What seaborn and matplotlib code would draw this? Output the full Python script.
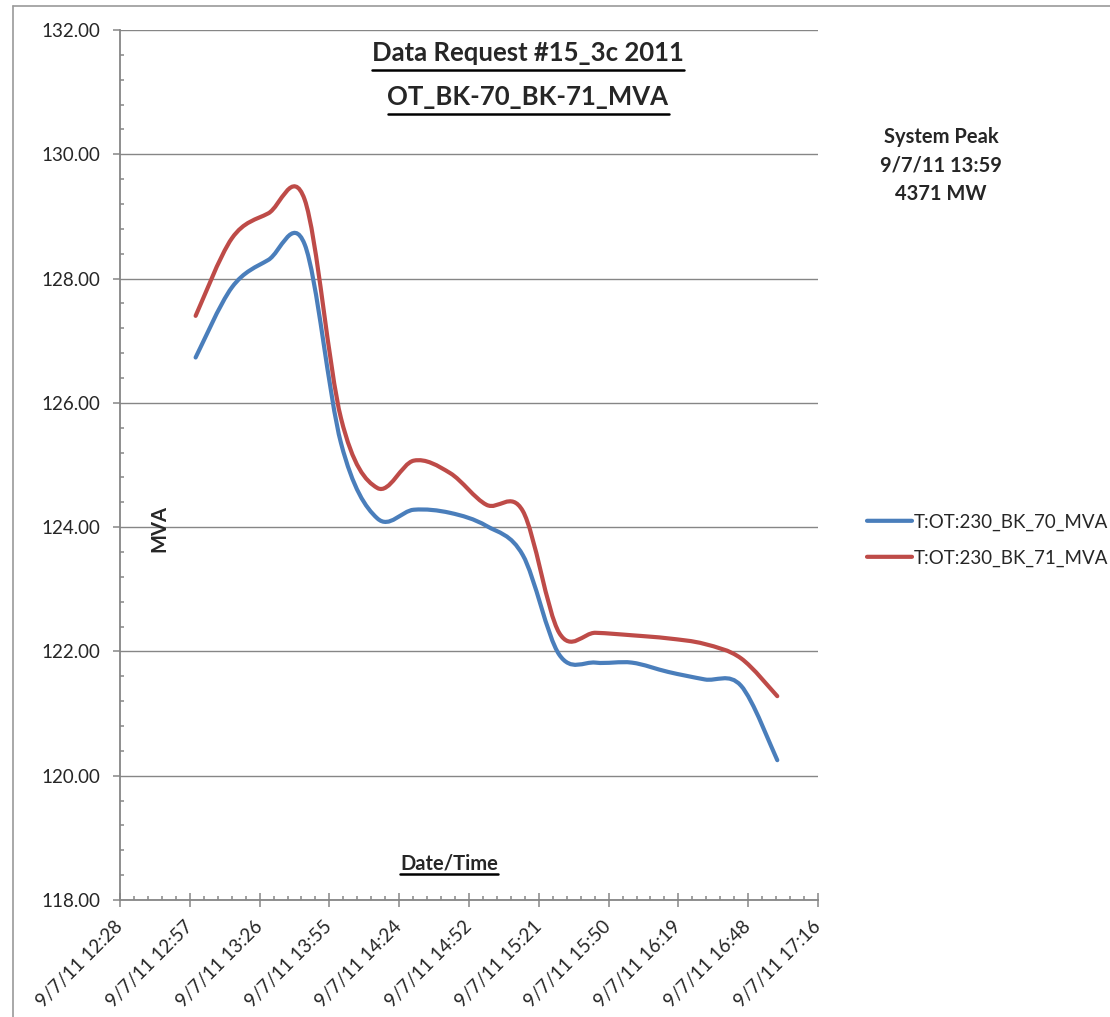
import matplotlib
matplotlib.use("Agg")
import matplotlib.pyplot as plt
import matplotlib.dates as mdates
import matplotlib.ticker as mticker
from matplotlib.lines import Line2D
from matplotlib.path import Path
from matplotlib.transforms import Affine2D
from matplotlib.patheffects import AbstractPathEffect
import seaborn as sns
import pandas as pd
import numpy as np

# readings, 15 minute interval on 9/7/11
times = ["13:00", "13:15", "13:30", "13:45", "14:00", "14:15", "14:30", "14:45", "15:00",
         "15:15", "15:30", "15:45", "16:00", "16:15", "16:30", "16:45", "17:00"]
bk70 = [126.73, 127.86, 128.30, 128.55, 125.35, 124.14, 124.28, 124.23, 124.02,
        123.55, 121.95, 121.82, 121.82, 121.67, 121.55, 121.45, 120.25]
bk71 = [127.40, 128.65, 129.05, 129.27, 125.75, 124.63, 125.07, 124.87, 124.36,
        124.26, 122.30, 122.30, 122.26, 122.21, 122.12, 121.89, 121.28]
series_names = ["T:OT:230_BK_70_MVA", "T:OT:230_BK_71_MVA"]
colors = ["#4A7EBB", "#BE4B48"]
y_ticks = [118, 120, 122, 124, 126, 128, 130, 132]
peak_lines = ["System Peak", "9/7/11 13:59", "4371 MW"]

stamp = pd.to_datetime(["2011-09-07 " + t for t in times])
df = pd.concat([
    pd.DataFrame({"time": stamp, "MVA": bk70, "series": series_names[0]}),
    pd.DataFrame({"time": stamp, "MVA": bk71, "series": series_names[1]}),
])


class SmoothLine(AbstractPathEffect):
    """draw a polyline as a Catmull-Rom style bezier (like excel smoothed lines)"""
    def draw_path(self, renderer, gc, tpath, affine, rgbFace=None):
        pts = affine.transform(tpath.vertices)
        if len(pts) < 3:
            renderer.draw_path(gc, tpath, affine, rgbFace)
            return
        ext = np.vstack([pts[0], pts, pts[-1]])
        verts = [pts[0]]
        codes = [Path.MOVETO]
        for i in range(len(pts) - 1):
            p0, p1, p2, p3 = ext[i], ext[i + 1], ext[i + 2], ext[i + 3]
            verts += [p1 + (p2 - p0) / 6, p2 - (p3 - p1) / 6, p2]
            codes += [Path.CURVE4] * 3
        renderer.draw_path(gc, Path(np.array(verts), codes), Affine2D(), rgbFace)


sns.set_style("white")
plt.rcParams["font.family"] = ["Lato", "DejaVu Sans"]

W, H = 1110, 1017
fig = plt.figure(figsize=(W / 100, H / 100), dpi=100)
ax = fig.add_axes([120 / W, 1 - 900 / H, 698 / W, 870 / H])

sns.lineplot(data=df, x="time", y="MVA", hue="series", palette=colors,
             linewidth=3, ax=ax, legend=False)
for ln in ax.lines:
    ln.set_path_effects([SmoothLine()])
    ln.set_solid_capstyle("round")

grey = "#868686"
x0 = mdates.date2num(pd.Timestamp("2011-09-07 12:28:48"))
ax.set_xlim(x0, x0 + 0.2)
ax.set_ylim(118, 132)
ax.set_xticks(x0 + np.arange(11) * 0.02)
ax.xaxis.set_minor_locator(mticker.MultipleLocator(0.004))
ax.set_yticks(y_ticks)
ax.yaxis.set_minor_locator(mticker.MultipleLocator(0.4))


def fmt_time(v, pos):
    d = pd.Timestamp(mdates.num2date(v)).round("s")
    return f"{d.month}/{d.day}/{d:%y %H:%M}"


ax.xaxis.set_major_formatter(mticker.FuncFormatter(fmt_time))
ax.yaxis.set_major_formatter(mticker.FormatStrFormatter("%.2f"))
ax.set_xlabel("")
ax.set_ylabel("")

ax.grid(axis="y", which="major", color=grey, lw=1)
ax.grid(axis="x", visible=False)
for s in ["top", "right"]:
    ax.spines[s].set_visible(False)
for s in ["left", "bottom"]:
    ax.spines[s].set_color(grey)
    ax.spines[s].set_linewidth(1.3)

ax.tick_params(axis="y", which="major", direction="out", length=5, width=1.1, color=grey,
               labelsize=13.5, pad=9, left=True)
ax.tick_params(axis="y", which="minor", direction="in", length=3, width=1.1, color=grey, left=True)
ax.tick_params(axis="x", which="major", direction="inout", length=10, width=1.1, color=grey,
               labelsize=13.5, pad=12, bottom=True)
ax.tick_params(axis="x", which="minor", direction="in", length=3, width=1.1, color=grey, bottom=True)
for lab in ax.get_xticklabels():
    lab.set_rotation(45)
    lab.set_ha("right")
    lab.set_va("center")
    lab.set_rotation_mode("anchor")

leg = ax.legend(handles=ax.lines[:2], labels=series_names, loc="center left",
                bbox_to_anchor=(867 / W, 1 - 540 / H), bbox_transform=fig.transFigure,
                frameon=False, fontsize=13.5, handlelength=2.4, handletextpad=0.12,
                labelspacing=1.0, borderpad=0, borderaxespad=0)

# titles and labels
t1 = fig.text(528 / W, 1 - 61 / H, "Data Request #15_3c 2011", ha="center", va="baseline",
              fontsize=18.5, fontweight="bold")
t2 = fig.text(528 / W, 1 - 105 / H, "OT_BK-70_BK-71_MVA", ha="center", va="baseline",
              fontsize=18.5, fontweight="bold")
t3 = fig.text(449 / W, 1 - 870 / H, "Date/Time", ha="center", va="baseline",
              fontsize=14.5, fontweight="bold")
fig.text(159 / W, 1 - 528 / H, "MVA", ha="center", va="center", rotation=90,
         fontsize=14.5, fontweight="bold")
for i, txt in enumerate(peak_lines):
    fig.text(941 / W, 1 - (143 + 28.5 * i) / H, txt, ha="center", va="baseline",
             fontsize=14.5, fontweight="bold")

# underline the bold headings
fig.canvas.draw()
rend = fig.canvas.get_renderer()
for t, gap in [(t1, 9), (t2, 9), (t3, 4)]:
    bb = t.get_window_extent(rend)
    yb = t.get_position()[1] - gap / H
    fig.add_artist(Line2D([bb.x0 / W, bb.x1 / W], [yb, yb], transform=fig.transFigure,
                          color="black", lw=1.8))

# outer chart border
fig.add_artist(Line2D([13 / W, 1.0], [1 - 6 / H, 1 - 6 / H], transform=fig.transFigure,
                      color="#9a9a9a", lw=1.2))
fig.add_artist(Line2D([13 / W, 13 / W], [0, 1 - 6 / H], transform=fig.transFigure,
                      color="#9a9a9a", lw=1.2))

fig.savefig("out.png", dpi=100)
